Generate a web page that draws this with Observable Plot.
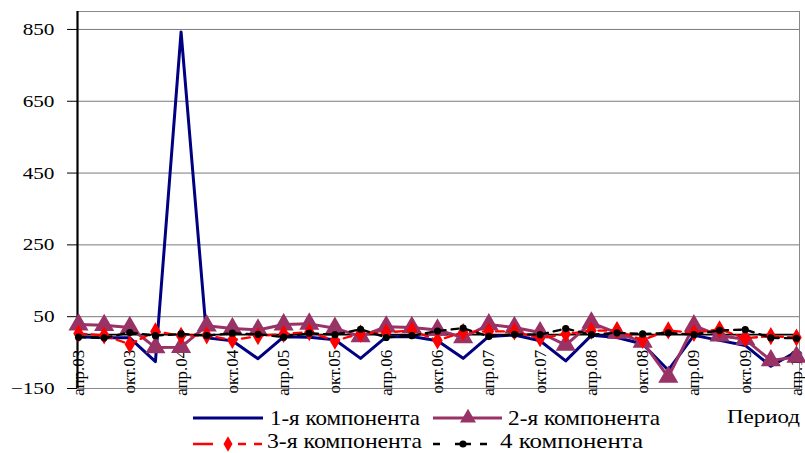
<!DOCTYPE html>
<html><head><meta charset="utf-8">
<style>
body{margin:0;background:#fff;font-family:"Liberation Serif",serif;}
#wrap{position:relative;width:805px;height:453px;background:#fff;}
#wrap > svg{display:block;}
#legend{position:absolute;left:0;top:405px;width:805px;height:48px;}
.lt{position:absolute;font-family:"Liberation Serif","Times New Roman",serif;color:#000;white-space:nowrap;line-height:1;transform-origin:0 0;}
.sw{position:absolute;left:0;top:0;}
</style>
<script src="https://cdn.jsdelivr.net/npm/d3@7"></script>
<script src="https://cdn.jsdelivr.net/npm/@observablehq/plot@0.6"></script>
</head><body>
<div id="wrap"><div id="legend"><svg class="sw" width="805" height="48"></svg></div></div>
<script>
const periods = ["апр.03","июл.03","окт.03","янв.04","апр.04","июл.04","окт.04","янв.05","апр.05","июл.05","окт.05","янв.06","апр.06","июл.06","окт.06","янв.07","апр.07","июл.07","окт.07","янв.08","апр.08","июл.08","окт.08","янв.09","апр.09","июл.09","окт.09","янв.10","апр.10"];
const comp1 = [-6,-9,-9,-75,843,-9,-17,-67,-6,-7,-14,-66,-6,-5,-17,-66,-5,-1,-17,-73,-2,-8,-26,-99,-2,-16,-30,-88,-47];
const comp2 = [28,26,20,-36,-35,25,17,13,28,30,18,-5,22,20,13,-8,28,20,6,-29,33,5,-20,-118,25,-3,-13,-72,-62];
const comp3 = [3,-2,-27,9,-3,-2,-15,-4,2,7,-17,3,6,12,-16,7,9,9,-10,2,11,12,-15,12,5,15,-10,-4,-8];
const comp4 = [-7,-9,6,-3,2,-3,4,1,-7,4,0,15,-8,-3,10,18,-5,1,0,17,0,5,2,5,0,12,14,-9,-10];
const seriesNames = ["1-я компонента","2-я компонента","3-я компонента","4 компонента"];
const yTicks = [-150,50,250,450,650,850];
const xTitle = "Период";

const toRows = arr => arr.map((v,i)=>({i, v}));
const d1 = toRows(comp1), d2 = toRows(comp2), d3r = toRows(comp3), d4 = toRows(comp4);
const labelIdx = periods.map((p,i)=>i).filter(i=>i%2===0);

const FONT = '"Liberation Serif","Times New Roman",serif';
const C1="#000080", C2="#993366", C3="#ff0000", C4="#000000";

const chart = Plot.plot({
  width: 805, height: 405,
  marginLeft: 77, marginRight: 6, marginTop: 11, marginBottom: 17,
  insetLeft: 1, insetRight: 3,
  x: {domain: [0, periods.length-1], axis: null},
  y: {domain: [-150, 900], axis: null},
  style: {background: "white", overflow: "visible", color: "#000", fontFamily: FONT},
  marks: [
    Plot.gridY(yTicks, {stroke: "#7a7a7a", strokeOpacity: 1, strokeWidth: 1}),
    Plot.frame({stroke: "#8a8a8a", strokeWidth: 1}),
    Plot.ruleY([0], {stroke: "#000", strokeWidth: 1.6}),
    Plot.ruleX([0], {y1: -150, y2: 900, stroke: "#000", strokeWidth: 2.2, dx: -1}),
    Plot.axisY(yTicks, {label: null, tickSize: 10, tickPadding: 13, fontSize: 17, stroke: "#000", fill: "#000"}),
    Plot.text(labelIdx, {x: d=>d, y: 0, text: d=>periods[d], rotate: -90, textAnchor: "end", dy: 15, fontSize: 17, fill: "#000"}),
    Plot.line(d1, {x: "i", y: "v", stroke: C1, strokeWidth: 3}),
    Plot.line(d2, {x: "i", y: "v", stroke: C2, strokeWidth: 3}),
    Plot.dot(d2, {x: "i", y: "v", symbol: "triangle", r: 6.5, fill: C2, stroke: C2}),
    Plot.line(d3r, {x: "i", y: "v", stroke: C3, strokeWidth: 2.3, strokeDasharray: "8,5"}),
    Plot.dot(d3r, {x: "i", y: "v", symbol: "diamond", r: 5.5, fill: C3, stroke: "none"}),
    Plot.line(d4, {x: "i", y: "v", stroke: C4, strokeWidth: 2.3, strokeDasharray: "7,6"}),
    Plot.dot(d4, {x: "i", y: "v", r: 3.6, fill: C4, stroke: "none"})
  ]
});

// stretch y tick labels horizontally as in the reference
d3.select(chart).selectAll('g[aria-label="y-axis tick label"] text').each(function(){
  const el = d3.select(this);
  const t = el.attr("transform");
  if (t) el.attr("transform", t + " scale(1.25,1)");
  else {
    const x = +el.attr("x") || 0;
    el.attr("transform", `translate(${x},0) scale(1.25,1) translate(${-x},0)`);
  }
});
d3.select(chart).selectAll("text").attr("font-family", "Liberation Serif");

const wrap = document.getElementById("wrap");
wrap.insertBefore(chart, document.getElementById("legend"));

// legend below the chart: swatches in SVG, texts as HTML
const legend = d3.select("#legend");
const sw = legend.select("svg");
const o = 405;
function label(x, baseline, size, width, s){
  const el = legend.append("div").attr("class","lt").style("left", x+"px").style("font-size", size+"px").text(s);
  const node = el.node();
  const w = node.getBoundingClientRect().width || 1;
  // baseline ≈ top + 0.891em for Liberation Serif with line-height 1 (content centred)
  const top = baseline - o - size*0.86;
  el.style("top", top+"px").style("transform", `scaleX(${width / w})`);
}
// row 1
sw.append("line").attr("x1",193).attr("x2",263).attr("y1",418-o).attr("y2",418-o).attr("stroke",C1).attr("stroke-width",3);
label(270, 426.5, 21, 150, seriesNames[0]);
sw.append("line").attr("x1",433).attr("x2",502).attr("y1",418-o).attr("y2",418-o).attr("stroke",C2).attr("stroke-width",3);
sw.append("path").attr("d", d3.symbol(d3.symbolTriangle, 110)()).attr("transform",`translate(468,${418-o})`).attr("fill",C2);
label(508, 426.5, 21, 152, seriesNames[1]);
label(727, 423, 19, 73, xTitle);
// row 2
const y2 = 444-o;
[[193,213],[238,246],[254,262]].forEach(([a,b])=>sw.append("line").attr("x1",a).attr("x2",b).attr("y1",y2).attr("y2",y2).attr("stroke",C3).attr("stroke-width",2.5));
sw.append("path").attr("d", d3.symbol(d3.symbolDiamond, 70)()).attr("transform",`translate(228,${y2})`).attr("fill",C3);
label(267, 449.5, 21, 155, seriesNames[2]);
[[433,440],[455,471],[480,487]].forEach(([a,b])=>sw.append("line").attr("x1",a).attr("x2",b).attr("y1",y2).attr("y2",y2).attr("stroke",C4).attr("stroke-width",2.5));
sw.append("circle").attr("cx",463).attr("cy",y2).attr("r",3.6).attr("fill",C4);
label(500, 449.5, 21, 143, seriesNames[3]);
</script>
</body></html>
